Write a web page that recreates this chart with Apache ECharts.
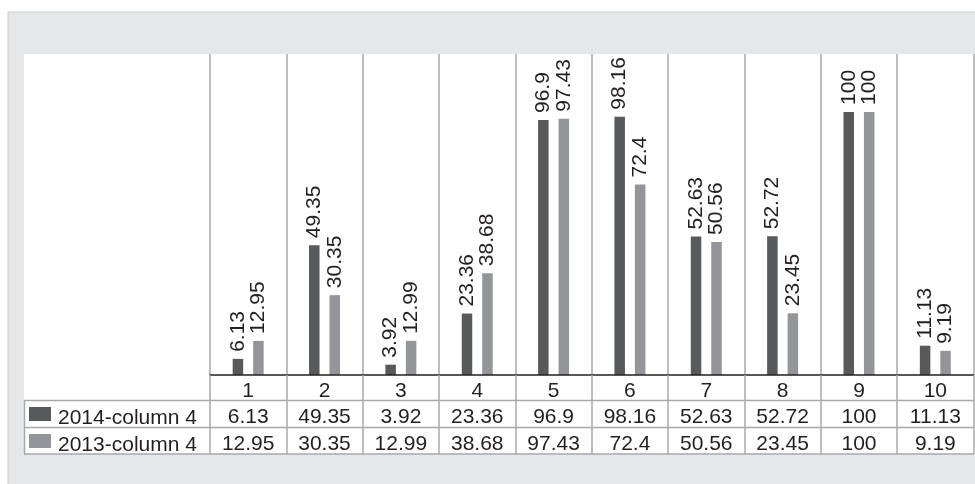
<!DOCTYPE html>
<html>
<head>
<meta charset="utf-8">
<script src="https://cdn.jsdelivr.net/npm/echarts@6/dist/echarts.min.js"></script>
<style>
  html, body { margin: 0; padding: 0; background: #ffffff; }
  #chart { width: 975px; height: 484px; }
</style>
</head>
<body>
<div id="chart"></div>
<script>
// Category labels and the two series shown as bars and in the data table
const categories = ['1', '2', '3', '4', '5', '6', '7', '8', '9', '10'];
const series2014 = [6.13, 49.35, 3.92, 23.36, 96.9, 98.16, 52.63, 52.72, 100, 11.13];
const series2013 = [12.95, 30.35, 12.99, 38.68, 97.43, 72.4, 50.56, 23.45, 100, 9.19];
const seriesNames = ['2014-column 4', '2013-column 4'];

const FONT = 'Arial';
const FS = 21;
const TEXT = '#231f20';
const LINE = '#a7a9ac';
const COLORS = ['#58595b', '#939598'];

const chart = echarts.init(document.getElementById('chart'));

// Rows of the data table are drawn as extra category axes under the plot
function tableAxis(values, offset) {
  return {
    type: 'category',
    data: values.map(String),
    position: 'bottom',
    offset: offset,
    axisLine: { show: false },
    axisTick: { show: false },
    splitLine: { show: false },
    axisLabel: { color: TEXT, fontFamily: FONT, fontSize: FS, margin: 6, interval: 0 }
  };
}

// Row headers of the table: colour key plus series name
function rowHeader(i, top) {
  return [
    { type: 'rect', z: 6, shape: { x: 29, y: top + 7, width: 22, height: 14 },
      style: { fill: COLORS[i] } },
    { type: 'text', z: 6, x: 58, y: top + 7.5,
      style: { text: seriesNames[i], fill: TEXT, font: FS + 'px ' + FONT,
               verticalAlign: 'top', align: 'left' } }
  ];
}

const barLabel = {
  show: true,
  position: 'top',
  rotate: 90,
  align: 'left',
  verticalAlign: 'middle',
  distance: 7,
  color: TEXT,
  fontFamily: FONT,
  fontSize: FS
};

chart.setOption({
  animation: false,
  backgroundColor: '#ffffff',
  textStyle: { fontFamily: FONT },
  graphic: [
    { type: 'rect', z: -10, shape: { x: 8, y: 12, width: 980, height: 480 },
      style: { fill: '#e6e7e8', stroke: '#c9cbcd', lineWidth: 1 } },
    { type: 'rect', z: -9, shape: { x: 24, y: 54, width: 960, height: 400 },
      style: { fill: '#ffffff' } },
    // table rules to the left of the plot and across the rows
    { type: 'line', z: 5, shape: { x1: 24, y1: 400.5, x2: 974, y2: 400.5 }, style: { stroke: LINE, lineWidth: 1.5 } },
    { type: 'line', z: 5, shape: { x1: 24, y1: 427.5, x2: 974, y2: 427.5 }, style: { stroke: LINE, lineWidth: 1.5 } },
    { type: 'line', z: 5, shape: { x1: 24, y1: 454, x2: 974, y2: 454 }, style: { stroke: LINE, lineWidth: 1.5 } },
    { type: 'line', z: 5, shape: { x1: 24.5, y1: 400, x2: 24.5, y2: 454 }, style: { stroke: LINE, lineWidth: 1.5 } }
  ].concat(rowHeader(0, 400), rowHeader(1, 427)),
  grid: { left: 210, right: 1.5, top: 54, bottom: 109, containLabel: false },
  xAxis: [
    {
      type: 'category',
      data: categories,
      axisLine: { show: true, lineStyle: { color: TEXT, width: 1.5 } },
      axisTick: { show: true, length: 79, lineStyle: { color: LINE, width: 1.5 } },
      splitLine: { show: true, lineStyle: { color: LINE, width: 1.5 } },
      axisLabel: { color: TEXT, fontFamily: FONT, fontSize: FS, margin: 6, interval: 0 },
      z: 3
    },
    tableAxis(series2014, 26),
    tableAxis(series2013, 53)
  ],
  yAxis: {
    type: 'value',
    min: 0,
    max: 122,
    show: false,
    splitLine: { show: false }
  },
  series: [
    { name: seriesNames[0], type: 'bar', data: series2014, barWidth: 10.5, barGap: '95%',
      itemStyle: { color: COLORS[0] }, label: barLabel },
    { name: seriesNames[1], type: 'bar', data: series2013, barWidth: 10.5, barGap: '95%',
      itemStyle: { color: COLORS[1] }, label: barLabel }
  ]
});
</script>
</body>
</html>
